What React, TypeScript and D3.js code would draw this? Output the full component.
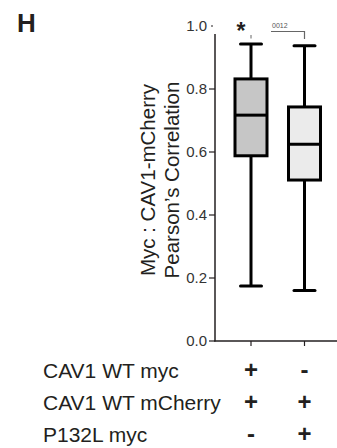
import * as d3 from "d3";

// box plot statistics
const groups = ["WT myc", "P132L myc"];
const whiskerMax = [0.943, 0.937];
const q3 = [0.832, 0.743];
const medians = [0.717, 0.625];
const q1 = [0.588, 0.511];
const whiskerMin = [0.175, 0.16];
const yTicks = [0, 0.2, 0.4, 0.6, 0.8, 1.0];

// condition table under the plot
const conditionLabels = ["CAV1 WT myc", "CAV1 WT mCherry", "P132L myc"];
const conditionSigns = [
  ["+", "-"],
  ["+", "+"],
  ["-", "+"],
];

const boxFills = ["#c6c6c6", "#ebebeb"];
const font = "'Liberation Sans', Arial, Helvetica, sans-serif";
const ink = "#231f20";

export default function App() {
  const width = 337;
  const height = 448;
  const axisX = 215;

  const y = d3.scaleLinear().domain([0, 1]).range([341, 26]);
  const x = d3.scalePoint<string>().domain(groups).range([251, 304.5]);

  const boxW = 32;
  const capW = 21;
  const rowY = d3.scalePoint<string>().domain(conditionLabels).range([378, 442]);

  return (
    <svg
      width={width}
      height={height}
      style={{ position: "absolute", left: 0, top: 0, fontFamily: font }}
    >
      <rect width={width} height={height} fill="#fff" />

      {/* panel letter */}
      <text x={17} y={32} fontSize={26} fontWeight={700} fill={ink}>
        H
      </text>

      {/* y axis title */}
      <g transform={`translate(0,180) rotate(-90)`} fill={ink} fontSize={20.5} textAnchor="middle">
        <text x={0} y={155}>Myc : CAV1-mCherry</text>
        <text x={0} y={179}>Pearson’s Correlation</text>
      </g>

      {/* y axis */}
      <line x1={axisX} x2={axisX} y1={y(0.975)} y2={y(0) + 0.5} stroke={ink} strokeWidth={1.5} />
      {yTicks.map((t) => (
        <g key={t}>
          <line
            x1={t === 1 ? axisX - 4 : axisX - 6}
            x2={t === 1 ? axisX - 2 : axisX}
            y1={y(t)}
            y2={y(t)}
            stroke={ink}
            strokeWidth={1.2}
          />
          <text
            x={207}
            y={y(t)}
            dy="0.36em"
            textAnchor="end"
            fontSize={15}
            fill="#333"
          >
            {t.toFixed(1)}
          </text>
        </g>
      ))}

      {/* x axis */}
      <line x1={axisX - 0.75} x2={width} y1={y(0)} y2={y(0)} stroke={ink} strokeWidth={1.5} />
      {groups.map((g) => (
        <line key={g} x1={x(g)} x2={x(g)} y1={y(0)} y2={y(0) + 5} stroke={ink} strokeWidth={1.2} />
      ))}

      {/* boxes */}
      {groups.map((g, i) => {
        const cx = x(g) as number;
        return (
          <g key={g} stroke="#000" strokeWidth={3}>
            <line x1={cx} x2={cx} y1={y(whiskerMax[i])} y2={y(q3[i])} />
            <line x1={cx} x2={cx} y1={y(q1[i])} y2={y(whiskerMin[i])} />
            <line
              x1={cx - capW / 2}
              x2={cx + capW / 2}
              y1={y(whiskerMax[i])}
              y2={y(whiskerMax[i])}
              strokeLinecap="round"
            />
            <line
              x1={cx - capW / 2}
              x2={cx + capW / 2}
              y1={y(whiskerMin[i])}
              y2={y(whiskerMin[i])}
              strokeLinecap="round"
            />
            <rect
              x={cx - boxW / 2}
              y={y(q3[i])}
              width={boxW}
              height={y(q1[i]) - y(q3[i])}
              fill={boxFills[i]}
            />
            <line x1={cx - boxW / 2} x2={cx + boxW / 2} y1={y(medians[i])} y2={y(medians[i])} />
          </g>
        );
      })}

      {/* significance marks */}
      <text x={241} y={39} textAnchor="middle" fontSize={23} fontWeight={700} fill={ink}>
        *
      </text>
      <line x1={x(groups[0])} x2={x(groups[0])} y1={35} y2={38.5} stroke="#666" strokeWidth={1} />
      <path
        d={`M271,31.5H${x(groups[1])}V39`}
        fill="none"
        stroke="#666"
        strokeWidth={1.2}
      />
      <text x={272} y={28} fontSize={7} fill="#555">
        0012
      </text>

      {/* condition table */}
      {conditionLabels.map((label, r) => (
        <g key={label}>
          <text x={43} y={rowY(label)} fontSize={21} fill={ink}>
            {label}
          </text>
          {groups.map((g, c) => (
            <text
              key={g}
              x={x(g)}
              y={rowY(label)}
              textAnchor="middle"
              fontSize={24}
              fontWeight={700}
              fill={ink}
            >
              {conditionSigns[r][c]}
            </text>
          ))}
        </g>
      ))}
    </svg>
  );
}
